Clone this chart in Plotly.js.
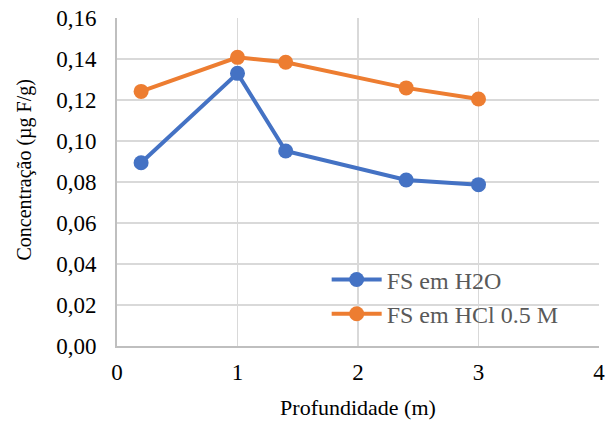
<!DOCTYPE html>
<html>
<head>
<meta charset="utf-8">
<script src="https://cdn.plot.ly/plotly-3.0.1.min.js"></script>
<style>
  html, body { margin: 0; padding: 0; background: #ffffff; }
  #chart { width: 605px; height: 427px; }
</style>
</head>
<body>
<div id="chart"></div>
<script>
// Depth (m) of each sampling point
const depth = [0.2, 1, 1.4, 2.4, 3];
// Fluoride concentration (µg F/g) per extraction medium
const fsH2O = [0.0894, 0.1330, 0.0951, 0.0810, 0.0787];
const fsHCl = [0.1242, 0.1408, 0.1384, 0.1259, 0.1205];
const seriesNames = ['FS em H2O', 'FS em HCl 0.5 M'];
const yTicks = [0, 0.02, 0.04, 0.06, 0.08, 0.10, 0.12, 0.14, 0.16];
const xTicks = [0, 1, 2, 3, 4];
const xTitle = 'Profundidade (m)';
const yTitle = 'Concentração (µg F/g)';

const serif = 'Liberation Serif';

const traces = [
  {
    x: depth, y: fsH2O, name: seriesNames[0],
    type: 'scatter', mode: 'lines+markers',
    line: { color: '#4472C4', width: 4 },
    marker: { color: '#4472C4', size: 15 }
  },
  {
    x: depth, y: fsHCl, name: seriesNames[1],
    type: 'scatter', mode: 'lines+markers',
    line: { color: '#ED7D31', width: 4 },
    marker: { color: '#ED7D31', size: 15 }
  }
];

const layout = {
  width: 605, height: 427,
  margin: { l: 117, r: 6, t: 18, b: 81 },
  font: { family: serif, color: '#000000' },
  paper_bgcolor: '#ffffff', plot_bgcolor: '#ffffff',
  separators: ', ',
  showlegend: true,
  legend: {
    x: 0.435, y: 0.27, xanchor: 'left', yanchor: 'top',
    bgcolor: 'rgba(0,0,0,0)',
    font: { family: serif, size: 24, color: '#595959' },
    itemwidth: 50,
    tracegroupgap: 0
  },
  xaxis: {
    range: [0, 4],
    tickvals: xTicks,
    ticktext: xTicks.map(String),
    ticklabeloverflow: 'allow',
    showgrid: true, gridcolor: '#D9D9D9', gridwidth: 1.5,
    zeroline: false,
    showline: true, linecolor: '#BFBFBF', linewidth: 2,
    ticks: '', ticklabelstandoff: 4,
    tickfont: { family: serif, size: 23, color: '#000000' },
    title: { text: xTitle, font: { family: serif, size: 22, color: '#000000' }, standoff: 16 },
    fixedrange: true
  },
  yaxis: {
    range: [0, 0.16],
    tickvals: yTicks,
    tickformat: '.2f',
    showgrid: true, gridcolor: '#D9D9D9', gridwidth: 1.5,
    zeroline: false,
    showline: true, linecolor: '#BFBFBF', linewidth: 2,
    ticks: '', ticklabelstandoff: 14,
    tickfont: { family: serif, size: 23, color: '#000000' },
    fixedrange: true
  },
  // vertical axis title, set slightly above the plot's mid-height
  annotations: [{
    text: yTitle, textangle: -90,
    xref: 'paper', yref: 'paper', x: 0, y: 0.535,
    xanchor: 'center', yanchor: 'middle', xshift: -92,
    showarrow: false,
    font: { family: serif, size: 20, color: '#000000' }
  }]
};

Plotly.newPlot('chart', traces, layout, { displayModeBar: false, staticPlot: true });
</script>
</body>
</html>
